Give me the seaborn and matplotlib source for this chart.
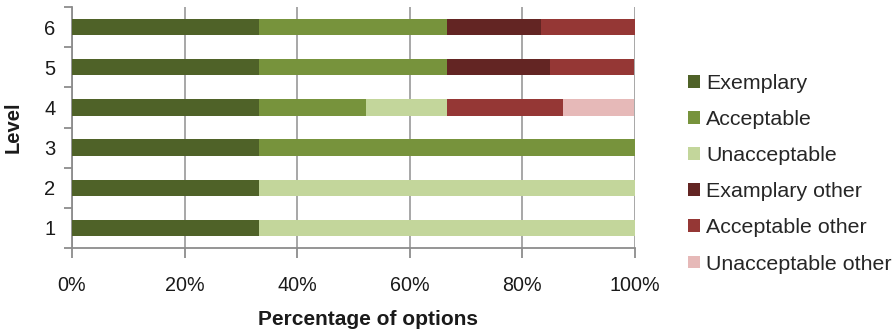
import matplotlib
matplotlib.use("Agg")
import matplotlib.pyplot as plt
import seaborn as sns
import numpy as np
import pandas as pd
from matplotlib.patches import Patch
from matplotlib.ticker import FixedLocator, PercentFormatter

levels = ["6", "5", "4", "3", "2", "1"]
series_names = ["Exemplary", "Acceptable", "Unacceptable",
                "Examplary other", "Acceptable other", "Unacceptable other"]
exemplary = [33.3, 33.3, 33.3, 33.3, 33.3, 33.3]
acceptable = [33.3, 33.3, 19.0, 66.7, 0.0, 0.0]
unacceptable = [0.0, 0.0, 14.3, 0.0, 66.7, 66.7]
examplary_other = [16.7, 18.3, 0.0, 0.0, 0.0, 0.0]
acceptable_other = [16.7, 15.0, 20.6, 0.0, 0.0, 0.0]
unacceptable_other = [0.0, 0.0, 12.7, 0.0, 0.0, 0.0]
colors = ["#4F6228", "#77933C", "#C3D69B", "#632523", "#953735", "#E6B9B8"]

series = [exemplary, acceptable, unacceptable, examplary_other,
          acceptable_other, unacceptable_other]

sns.set_theme(style="white")
plt.rcParams["font.family"] = ["Liberation Sans", "DejaVu Sans"]

fig = plt.figure(figsize=(8.96, 3.33), dpi=100)
ax = fig.add_axes([72 / 896, 85 / 333, (635 - 72) / 896, (248 - 7) / 333])

cum = np.cumsum(np.array(series), axis=0)
for i in range(len(series) - 1, -1, -1):
    df = pd.DataFrame({"Level": levels, "value": cum[i]})
    sns.barplot(data=df, x="value", y="Level", order=levels, orient="h",
                color=colors[i], saturation=1, width=0.41, linewidth=0,
                ax=ax, zorder=3)

ax.set_xlim(0, 100)
ax.set_ylim(5.5, -0.5)
ax.xaxis.set_major_locator(FixedLocator([0, 20, 40, 60, 80, 100]))
ax.xaxis.set_major_formatter(PercentFormatter(decimals=0))
ax.grid(axis="x", color="#A0A0A0", linewidth=1.3, zorder=0)
ax.grid(axis="y", visible=False)
ax.set_axisbelow(True)

for s in ["top", "right"]:
    ax.spines[s].set_visible(False)
for s in ["left", "bottom"]:
    ax.spines[s].set_color("#8C8C8C")
    ax.spines[s].set_linewidth(1.3)

ax.yaxis.set_minor_locator(FixedLocator(np.arange(-0.5, 6.0, 1.0)))
ax.tick_params(axis="y", which="major", length=0, labelsize=14.5, pad=12,
               labelcolor="#1a1a1a")
ax.tick_params(axis="y", which="minor", length=6, width=1.3, color="#8C8C8C",
               direction="out", left=True)
ax.tick_params(axis="x", which="major", length=7, width=1.3, color="#8C8C8C",
               direction="out", bottom=True, labelsize=14.2, pad=13,
               labelcolor="#1a1a1a")

ax.set_xlabel("Percentage of options", fontsize=15, fontweight="bold",
              color="#1a1a1a")
ax.xaxis.set_label_coords((368 - 72) / 563, -0.258)
ax.set_ylabel("Level", fontsize=14.5, fontweight="bold", color="#1a1a1a")
ax.yaxis.set_label_coords(-0.087, 0.5)

handles = [Patch(facecolor=c, edgecolor="none") for c in colors]
fig.legend(handles, series_names, loc="upper left",
           bbox_to_anchor=(688 / 896, 1 - 74 / 333), frameon=False,
           fontsize=15.4, handlelength=0.55, handleheight=0.55,
           handletextpad=0.3, labelspacing=0.80, borderpad=0,
           borderaxespad=0)

fig.savefig("out.png", dpi=100)
